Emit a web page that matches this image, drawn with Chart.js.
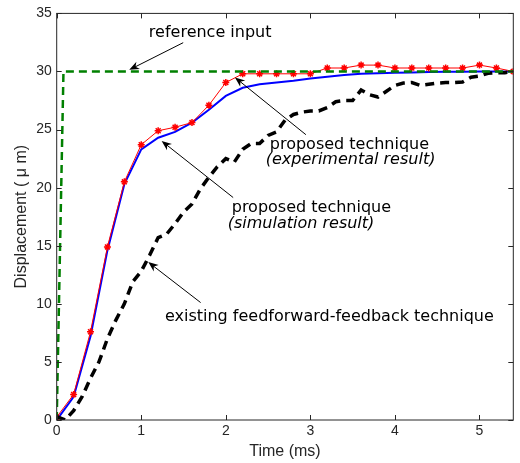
<!DOCTYPE html>
<html>
<head>
<meta charset="utf-8">
<script src="https://cdn.jsdelivr.net/npm/chart.js@4.4.1/dist/chart.umd.min.js"></script>
<style>
  body { margin: 0; background: #fff; }
  #wrap { width: 520px; height: 463px; }
</style>
</head>
<body>
<div id="wrap"><canvas id="myChart" width="520" height="463"></canvas></div>
<script>
// time axis (ms)
var xTicks = [0, 1, 2, 3, 4, 5];
var yTicks = [0, 5, 10, 15, 20, 25, 30, 35];

// reference step
var refTime = [0, 0.08, 5.4];
var refDisp = [0, 30, 30];

// proposed technique, sampled every 0.2 ms
var propTime = [0, 0.2, 0.4, 0.6, 0.8, 1.0, 1.2, 1.4, 1.6, 1.8, 2.0, 2.2, 2.4, 2.6,
  2.8, 3.0, 3.2, 3.4, 3.6, 3.8, 4.0, 4.2, 4.4, 4.6, 4.8, 5.0, 5.2, 5.4];
var simDisp = [0, 2.0, 7.2, 14.6, 20.3, 23.3, 24.3, 24.8, 25.6, 26.7, 27.9, 28.6, 28.9, 29.05,
  29.2, 29.4, 29.55, 29.7, 29.8, 29.85, 29.9, 29.92, 29.95, 29.97, 29.98, 30.0, 30.0, 30.0];
var expDisp = [0.25, 2.2, 7.6, 14.9, 20.5, 23.7, 24.9, 25.2, 25.6, 27.1, 29.05, 29.8, 29.8, 29.8,
  29.8, 29.8, 30.3, 30.3, 30.55, 30.55, 30.3, 30.3, 30.3, 30.3, 30.3, 30.55, 30.3, 30.0];

// existing feedforward-feedback technique
var oldTime = [0, 0.1, 0.2, 0.3, 0.4, 0.5, 0.6, 0.7, 0.8, 0.9, 1.0, 1.1, 1.2, 1.3, 1.4, 1.5,
  1.6, 1.7, 1.8, 1.9, 2.0, 2.1, 2.2, 2.3, 2.4, 2.5, 2.6, 2.7, 2.8, 2.9, 3.0, 3.1, 3.2, 3.3,
  3.4, 3.5, 3.6, 3.7, 3.8, 3.9, 4.0, 4.1, 4.2, 4.3, 4.4, 4.5, 4.6, 4.7, 4.8, 4.9, 5.0, 5.1,
  5.2, 5.3, 5.4];
var oldDisp = [0.3, 0, 0.8, 2.0, 3.6, 5.0, 7.0, 8.6, 10.0, 11.9, 12.8, 14.2, 15.7, 16.0, 16.9, 17.9,
  18.6, 19.9, 20.9, 21.8, 22.5, 22.2, 23.3, 23.8, 23.8, 24.5, 24.8, 25.8, 26.3, 26.5, 26.6, 26.6,
  26.9, 27.4, 27.5, 27.5, 28.4, 28.0, 27.8, 28.3, 28.8, 29.0, 29.05, 28.8, 28.9, 29.0, 29.05,
  29.05, 29.1, 29.5, 29.6, 29.85, 29.9, 29.9, 30.0];

function pts(xs, ys) {
  return xs.map(function (x, i) { return { x: x, y: ys[i] }; });
}

// annotations: text + arrow in data units
var notes = [
  { lines: ['reference input'], at: [1.09, 33.3], tail: [1.496, 32.48], head: [0.858, 30.14] },
  { lines: ['proposed technique', '(experimental result)'], at: [2.52, 23.68], tail: [2.947, 24.56], head: [2.108, 29.49] },
  { lines: ['proposed technique', '(simulation result)'], at: [2.07, 18.23], tail: [2.087, 19.15], head: [1.241, 24.02] },
  { lines: ['existing feedforward-feedback technique'], at: [1.28, 8.91], tail: [1.702, 10.11], head: [1.083, 13.59] }
];

var axisColor = '#262626';

var boxPlugin = {
  id: 'boxPlugin',
  afterDraw: function (chart) {
    var ctx = chart.ctx, a = chart.chartArea;
    var xs = chart.scales.x, ys = chart.scales.y;
    ctx.save();
    ctx.strokeStyle = axisColor;
    ctx.lineWidth = 1;
    ctx.strokeRect(a.left, a.top, a.right - a.left, a.bottom - a.top);
    ctx.beginPath();
    xTicks.forEach(function (t) {
      var px = Math.round(xs.getPixelForValue(t)) + 0.5;
      ctx.moveTo(px, a.bottom); ctx.lineTo(px, a.bottom - 5);
      ctx.moveTo(px, a.top); ctx.lineTo(px, a.top + 5);
    });
    yTicks.forEach(function (t) {
      var py = Math.round(ys.getPixelForValue(t)) + 0.5;
      ctx.moveTo(a.left, py); ctx.lineTo(a.left + 5, py);
      ctx.moveTo(a.right, py); ctx.lineTo(a.right - 5, py);
    });
    ctx.stroke();

    // annotations
    ctx.fillStyle = '#000';
    ctx.strokeStyle = '#000';
    ctx.textBaseline = 'middle';
    ctx.textAlign = 'left';
    notes.forEach(function (n) {
      var tx = xs.getPixelForValue(n.at[0]), ty = ys.getPixelForValue(n.at[1]);
      n.lines.forEach(function (s, i) {
        ctx.font = (i === 1 ? 'italic ' : '') + '16px "DejaVu Sans"';
        ctx.fillText(s, tx - (i === 1 ? 4 : 0), ty + i * 15.2);
      });
      var x1 = xs.getPixelForValue(n.tail[0]), y1 = ys.getPixelForValue(n.tail[1]);
      var x2 = xs.getPixelForValue(n.head[0]), y2 = ys.getPixelForValue(n.head[1]);
      var ang = Math.atan2(y2 - y1, x2 - x1);
      ctx.lineWidth = 1;
      ctx.beginPath();
      ctx.moveTo(x1, y1);
      ctx.lineTo(x2 - 6 * Math.cos(ang), y2 - 6 * Math.sin(ang));
      ctx.stroke();
      var L = 10, W = 4;
      var bx = x2 - L * Math.cos(ang), by = y2 - L * Math.sin(ang);
      var nx = -Math.sin(ang), ny = Math.cos(ang);
      ctx.beginPath();
      ctx.moveTo(x2, y2);
      ctx.lineTo(bx + nx * W, by + ny * W);
      ctx.lineTo(x2 - 7 * Math.cos(ang), y2 - 7 * Math.sin(ang));
      ctx.lineTo(bx - nx * W, by - ny * W);
      ctx.closePath();
      ctx.fill();
    });
    ctx.restore();
  }
};

var ctx = document.getElementById('myChart').getContext('2d');
var myChart = new Chart(ctx, {
  type: 'line',
  data: {
    datasets: [
      {
        label: 'reference input',
        data: pts(refTime, refDisp),
        borderColor: 'rgb(0, 128, 0)',
        borderWidth: 2.5,
        borderDash: [8, 5],
        pointRadius: 0,
        order: 0
      },
      {
        label: 'existing feedforward-feedback technique',
        data: pts(oldTime, oldDisp),
        borderColor: '#000',
        borderWidth: 3.5,
        borderDash: [9, 6],
        pointRadius: 0,
        order: 1
      },
      {
        label: 'proposed technique (experimental result)',
        data: pts(propTime, expDisp),
        borderColor: 'rgb(255, 0, 0)',
        borderWidth: 1,
        pointStyle: 'star',
        pointRadius: 3.5,
        pointBorderWidth: 1.5,
        pointBorderColor: 'rgb(255, 0, 0)',
        order: 2
      },
      {
        label: 'proposed technique (simulation result)',
        data: pts(propTime, simDisp),
        borderColor: 'rgb(0, 0, 255)',
        borderWidth: 2,
        pointRadius: 0,
        order: 3
      }
    ]
  },
  options: {
    responsive: false,
    animation: false,
    devicePixelRatio: 1,
    layout: { padding: { top: 10.7, right: 6.7, left: 0, bottom: 0 } },
    elements: { line: { tension: 0, fill: false } },
    scales: {
      x: {
        type: 'linear',
        min: 0,
        max: 5.4,
        afterBuildTicks: function (s) { s.ticks = xTicks.map(function (v) { return { value: v }; }); },
        afterFit: function (s) { s.height = 43; },
        grid: { display: false, drawTicks: false },
        border: { display: false },
        ticks: { padding: 3, color: axisColor, font: { family: '"Liberation Sans", Arial', size: 14 }, maxRotation: 0 },
        title: { display: true, text: 'Time (ms)', color: axisColor, padding: { top: 0, bottom: 1.4 },
          font: { family: '"Liberation Sans", Arial', size: 16 } }
      },
      y: {
        min: 0,
        max: 35,
        afterBuildTicks: function (s) { s.ticks = yTicks.map(function (v) { return { value: v }; }); },
        afterFit: function (s) { s.width = 56.7; },
        grid: { display: false, drawTicks: false },
        border: { display: false },
        ticks: { padding: 5, color: axisColor, font: { family: '"Liberation Sans", Arial', size: 14 } },
        title: { display: true, text: 'Displacement ( \u03bc m)', color: axisColor, padding: { top: 12.4, bottom: 0 },
          font: { family: '"Liberation Sans", Arial', size: 16 } }
      }
    },
    plugins: {
      legend: { display: false },
      tooltip: { enabled: false }
    }
  },
  plugins: [boxPlugin]
});
</script>
</body>
</html>
